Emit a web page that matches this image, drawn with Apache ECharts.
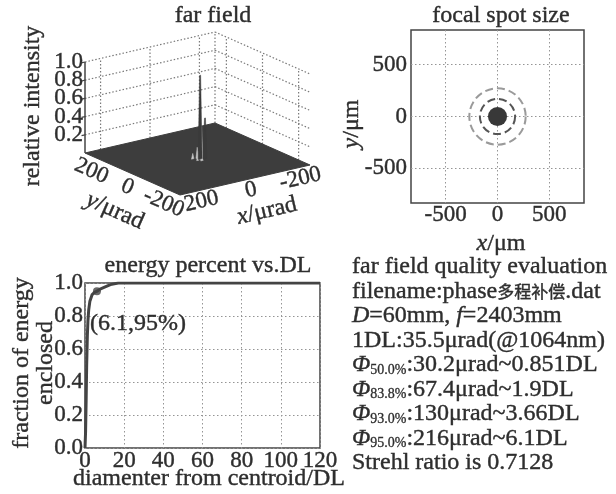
<!DOCTYPE html>
<html><head><meta charset="utf-8">
<script src="https://cdn.jsdelivr.net/npm/echarts@6/dist/echarts.min.js"></script>
<style>html,body{margin:0;padding:0;background:#fff}#c{width:616px;height:494px}</style>
</head><body><div id="c"></div>
<script>
// ---------------- data ----------------
// far field (3D surface)
const farXTicks = [200, 0, -200];
const farYTicks = [200, 0, -200];
const farZTicks = [0.2, 0.4, 0.6, 0.8, 1.0];
const farExtent = 263;                 // half window, μrad
const farPeaks = [                      // [x μrad, y μrad, relative intensity]
  [-7, -5, 0.92],
  [-20, -14, 0.45]
];
const farSidelobes = [
  [-10, -9, 0.36], [-4, 7, 0.12], [7, -12, 0.10], [-18, 5, 0.07], [12, 10, 0.06], [-2, -22, 0.08]
];
// focal spot
const focalTicks = [-500, 0, 500];
const focalRange = 835;                 // μm
const focalCore = 92;                   // radius μm
const focalRings = [170, 272];          // radius μm
// encircled energy
const energyDiam = [0, 0.3, 0.6, 0.851, 1.2, 1.5, 1.9, 2.5, 3.66, 5, 6.1, 8, 10, 13, 17, 120];
const energyFrac = [0, 0.1, 0.3, 0.5, 0.68, 0.77, 0.838, 0.89, 0.93, 0.945, 0.95, 0.965, 0.975, 0.99, 1.0, 1.0];
const energyMark = [6.1, 0.95];
const energyMarkLabel = '(6.1,95%)';
// evaluation text
const infoTitle = 'far field quality evaluation';
const infoFile = ['filename:phase', '多程补偿', '.dat'];
const infoOptics = ['D', '=60mm, ', 'f', '=2403mm'];
const infoDL = '1DL:35.5μrad(@1064nm)';
const infoPhiSub = ['50.0%', '83.8%', '93.0%', '95.0%'];
const infoPhiVal = [':30.2μrad~0.851DL', ':67.4μrad~1.9DL', ':130μrad~3.66DL', ':216μrad~6.1DL'];
const infoStrehl = 'Strehl ratio is 0.7128';

// ---------------- style / layout ----------------
const FONT = 'Liberation Serif';
const TXT = '#2e2e2e';
const BW = 0.4;                          // stroke to mimic the heavier print
const FS = 24, TFS = 23;
const O = [197.5, 159];                 // projected floor centre (px)
const EX = [-130 / 526, 30 / 526];      // px per μrad along x
const EY = [-95 / 526, -42 / 526];      // px per μrad along y
const EZ = -91;                          // px per unit intensity
function proj(x, y, z) {
  return [O[0] + x * EX[0] + y * EY[0], O[1] + x * EX[1] + y * EY[1] + z * EZ];
}
const R = farExtent;
const wallSegs = [];
farZTicks.forEach(z => { wallSegs.push([R, R, z, -R, R, z]); wallSegs.push([-R, R, z, -R, -R, z]); });
farXTicks.forEach(x => wallSegs.push([x, R, 0, x, R, 1]));
farYTicks.forEach(y => wallSegs.push([-R, y, 0, -R, y, 1]));
wallSegs.push([-R, R, 0, -R, R, 1]);

const richBase = {
  i: { fontFamily: FONT, fontSize: FS, fontStyle: 'italic', fill: TXT, stroke: TXT, lineWidth: BW, lineHeight: FS },
  s: { fontFamily: FONT, fontSize: 14, fill: TXT, stroke: TXT, lineWidth: 0.3, lineHeight: 14, verticalAlign: 'bottom' },
  c: { fontFamily: 'Noto Sans CJK SC', fontSize: 17, fill: TXT, lineHeight: FS },
  n: { fontFamily: FONT, fontSize: FS, fill: TXT, stroke: TXT, lineWidth: BW, lineHeight: FS }
};
function txt(x, y, text, opt) {
  opt = opt || {};
  return {
    type: 'text', x: x, y: y, rotation: opt.rotation || 0, silent: true,
    style: {
      text: text, fontFamily: FONT, fontSize: opt.fontSize || FS, fill: TXT, stroke: TXT, lineWidth: BW,
      align: opt.align || 'center', verticalAlign: opt.verticalAlign || 'middle',
      rich: richBase, lineHeight: opt.lineHeight || FS
    }
  };
}

const infoRows = [
  '{n|' + infoTitle + '}',
  '{n|' + infoFile[0] + '}{c|' + infoFile[1] + '}{n|' + infoFile[2] + '}',
  '{i|' + infoOptics[0] + '}{n|' + infoOptics[1] + '}{i|' + infoOptics[2] + '}{n|' + infoOptics[3] + '}',
  '{n|' + infoDL + '}'
].concat(infoPhiSub.map((s, k) => '{i|Φ}{s|' + s + '}{n|' + infoPhiVal[k] + '}'))
 .concat(['{n|' + infoStrehl + '}']);

const graphics = [
  txt(213, 16, 'far field'),
  txt(501, 16, 'focal spot size'),
  txt(208, 266, 'energy percent vs.DL'),
  txt(33, 106, 'relative intensity', { rotation: Math.PI / 2 }),
  txt(115, 211, '{i|y}{n|/μrad}', { rotation: -0.415 }),
  txt(267, 211, '{i|x}{n|/μrad}', { rotation: 0.227 }),
  txt(352, 124, '{i|y}{n|/μm}', { rotation: Math.PI / 2 }),
  txt(501, 244, '{i|x}{n|/μm}'),
  txt(34, 363, 'fraction of energy\nenclosed', { rotation: Math.PI / 2, lineHeight: 24 }),
  txt(209, 479, 'diamenter from centroid/DL')
].concat(infoRows.map((r, k) => txt(352, 267 + k * 24.5, r, { align: 'left' })));

const axisLbl = { fontFamily: FONT, fontSize: TFS, color: TXT, textBorderColor: TXT, textBorderWidth: BW };
const dotted = { color: '#959595', width: 1, type: [1.5, 2.5] };

const option = {
  backgroundColor: '#fff',
  animation: false,
  grid: [
    { left: 85, top: 283, width: 235, height: 165, show: true, borderColor: '#444', borderWidth: 1.5, backgroundColor: 'transparent' },
    { left: 411, top: 30, width: 173, height: 173, show: true, borderColor: '#444', borderWidth: 1.5, backgroundColor: 'transparent' },
    { left: 0, top: 0, width: 616, height: 494 }
  ],
  xAxis: [
    { gridIndex: 0, type: 'value', min: 0, max: 120, interval: 20,
      axisLine: { show: false }, axisTick: { show: false },
      axisLabel: Object.assign({ margin: 1 }, axisLbl), splitLine: { show: true, lineStyle: dotted } },
    { gridIndex: 1, type: 'value', min: -focalRange, max: focalRange,
      axisLine: { show: false }, axisTick: { show: false, customValues: focalTicks },
      axisLabel: Object.assign({ margin: 0, customValues: focalTicks }, axisLbl), splitLine: { show: true, lineStyle: dotted } },
    { gridIndex: 2, type: 'value', min: 0, max: 616, show: false }
  ],
  yAxis: [
    { gridIndex: 0, type: 'value', min: 0, max: 1, interval: 0.2,
      axisLine: { show: false }, axisTick: { show: false },
      axisLabel: Object.assign({ margin: 2, formatter: v => v.toFixed(1) }, axisLbl), splitLine: { show: true, lineStyle: dotted } },
    { gridIndex: 1, type: 'value', min: -focalRange, max: focalRange,
      axisLine: { show: false }, axisTick: { show: false, customValues: focalTicks },
      axisLabel: Object.assign({ margin: 4, customValues: focalTicks }, axisLbl), splitLine: { show: true, lineStyle: dotted } },
    { gridIndex: 2, type: 'value', min: 0, max: 494, inverse: true, show: false }
  ],
  graphic: graphics,
  series: [
    // energy curve
    { type: 'line', xAxisIndex: 0, yAxisIndex: 0, data: energyDiam.map((d, k) => [d, energyFrac[k]]),
      symbol: 'none', lineStyle: { color: '#444', width: 3 }, z: 3, silent: true },
    { type: 'scatter', xAxisIndex: 0, yAxisIndex: 0, data: [energyMark], symbolSize: 8,
      itemStyle: { color: '#444' }, z: 4, silent: true,
      label: { show: true, formatter: energyMarkLabel, position: 'right', distance: 5, align: 'left', verticalAlign: 'middle',
               offset: [-16, 32], fontFamily: FONT, fontSize: FS, color: TXT, textBorderColor: TXT, textBorderWidth: BW, opacity: 1 } },
    // focal spot
    { type: 'custom', xAxisIndex: 1, yAxisIndex: 1, data: [[0, 0, focalCore]], z: 3, silent: true,
      renderItem: (p, api) => {
        const c = api.coord([api.value(0), api.value(1)]);
        const r = api.size([api.value(2), 0])[0];
        return { type: 'circle', shape: { cx: c[0], cy: c[1], r: r }, style: { fill: '#383838' } };
      } },
    { type: 'custom', xAxisIndex: 1, yAxisIndex: 1, data: focalRings.map(r => [0, 0, r]), z: 3, silent: true,
      renderItem: (p, api) => {
        const c = api.coord([api.value(0), api.value(1)]);
        const r = api.size([api.value(2), 0])[0];
        return { type: 'circle', shape: { cx: c[0], cy: c[1], r: r },
                 style: { fill: 'none', stroke: p.dataIndex === 0 ? '#555' : '#9a9a9a', lineWidth: 2, lineDash: [8, 4] } };
      } },
    // far field: back walls grid
    { type: 'custom', xAxisIndex: 2, yAxisIndex: 2, data: wallSegs, z: 1, clip: false, silent: true,
      renderItem: (p, api) => {
        const a = api.coord(proj(api.value(0), api.value(1), api.value(2)));
        const b = api.coord(proj(api.value(3), api.value(4), api.value(5)));
        return { type: 'line', shape: { x1: a[0], y1: a[1], x2: b[0], y2: b[1] },
                 style: { stroke: '#7a7a7a', lineWidth: 1.2, lineDash: [1.5, 2] } };
      } },
    // far field: floor of the surface
    { type: 'custom', xAxisIndex: 2, yAxisIndex: 2, data: [[R, R]], z: 2, clip: false, silent: true,
      renderItem: (p, api) => {
        const e = api.value(0);
        const pts = [[e, e], [e, -e], [-e, -e], [-e, e]].map(q => api.coord(proj(q[0], q[1], 0)));
        return { type: 'polygon', shape: { points: pts }, style: { fill: '#3d3d3d', stroke: '#3d3d3d', lineWidth: 1 } };
      } },
    // side lobes
    { type: 'custom', xAxisIndex: 2, yAxisIndex: 2, data: farSidelobes, z: 3, clip: false, silent: true,
      renderItem: (p, api) => {
        const x = api.value(0), y = api.value(1), z = api.value(2), w = 5;
        const pts = [proj(x + w, y, 0), proj(x, y, z), proj(x - w, y, 0)].map(q => api.coord(q));
        return { type: 'polygon', shape: { points: pts }, style: { fill: '#cfcfcf', stroke: '#bdbdbd', lineWidth: 0.6 } };
      } },
    // main peaks
    { type: 'custom', xAxisIndex: 2, yAxisIndex: 2, data: farPeaks, z: 4, clip: false, silent: true,
      renderItem: (p, api) => {
        const x = api.value(0), y = api.value(1), z = api.value(2), w = 8;
        const pts = [proj(x + w, y, 0), proj(x + 2, y, z), proj(x - 2, y, z), proj(x - w, y, 0)].map(q => api.coord(q));
        return { type: 'polygon', shape: { points: pts }, style: { fill: '#3a3a3a', stroke: '#3a3a3a', lineWidth: 0.5 } };
      } },
    // z axis with ticks and labels
    { type: 'custom', xAxisIndex: 2, yAxisIndex: 2, data: farZTicks.map(z => [R, R, z]), z: 5, clip: false, silent: true,
      renderItem: (p, api) => {
        const x = api.value(0), y = api.value(1), z = api.value(2);
        const a = api.coord(proj(x, y, z));
        const t = api.coord(proj(x + 14, y, z));
        const children = [
          { type: 'line', shape: { x1: a[0], y1: a[1], x2: t[0], y2: t[1] }, style: { stroke: '#444', lineWidth: 1.2 } },
          { type: 'text', x: a[0] - 2, y: a[1], style: { text: z.toFixed(1), fontFamily: FONT, fontSize: TFS, fill: TXT, stroke: TXT, lineWidth: BW, align: 'right', verticalAlign: 'middle' } }
        ];
        if (p.dataIndex === 0) {
          const b0 = api.coord(proj(x, y, 0)), b1 = api.coord(proj(x, y, 1));
          children.push({ type: 'line', shape: { x1: b0[0], y1: b0[1], x2: b1[0], y2: b1[1] }, style: { stroke: '#444', lineWidth: 1.5 } });
        }
        return { type: 'group', children: children };
      } },
    // y tick labels (front-left edge)
    { type: 'custom', xAxisIndex: 2, yAxisIndex: 2, data: farYTicks.map(v => [R, v]), z: 5, clip: false, silent: true,
      renderItem: (p, api) => {
        const a = api.coord(proj(api.value(0), api.value(1), 0));
        return { type: 'text', x: a[0] - 5, y: a[1] + 13, rotation: -0.415,
                 style: { text: String(api.value(1)), fontFamily: FONT, fontSize: TFS, fill: TXT, stroke: TXT, lineWidth: BW, align: 'center', verticalAlign: 'middle' } };
      } },
    // x tick labels (front-right edge)
    { type: 'custom', xAxisIndex: 2, yAxisIndex: 2, data: farXTicks.map(v => [v, -R]), z: 5, clip: false, silent: true,
      renderItem: (p, api) => {
        const a = api.coord(proj(api.value(0), api.value(1), 0));
        return { type: 'text', x: a[0] + 6, y: a[1] + 10, rotation: 0.227,
                 style: { text: String(api.value(0)), fontFamily: FONT, fontSize: TFS, fill: TXT, stroke: TXT, lineWidth: BW, align: 'center', verticalAlign: 'middle' } };
      } }
  ]
};
const chart = echarts.init(document.getElementById('c'));
chart.setOption(option);
</script></body></html>
